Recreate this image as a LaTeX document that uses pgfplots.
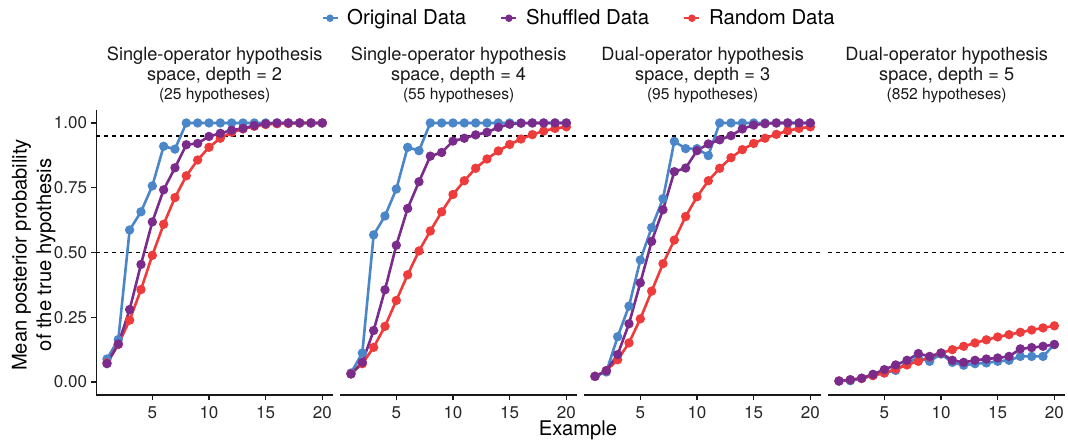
\documentclass[border=0pt]{standalone}
\usepackage{pgfplots}
\pgfplotsset{compat=1.18}
\usepackage{fontspec}
\setmainfont{TeX Gyre Heros}
\definecolor{cblue}{HTML}{4A86C8}
\definecolor{cpurple}{HTML}{7B2B8C}
\definecolor{cred}{HTML}{EE3B3B}
\newcommand\tickfont{\fontsize{8.5}{9}\selectfont}
\newcommand\titlefont{\fontsize{10.1}{12}\selectfont}
\newcommand\legfont{\fontsize{10.2}{12}\selectfont}
\newcommand\stripfont{\fontsize{9.1}{11}\selectfont}
\newcommand\stripsmall{\fontsize{7.8}{9}\selectfont}

\pgfplotstableread{
x orig shuf rand
1 0.089 0.071 0.074
2 0.164 0.147 0.145
3 0.587 0.280 0.239
4 0.657 0.454 0.357
5 0.757 0.618 0.489
6 0.910 0.742 0.609
7 0.899 0.827 0.712
8 1.000 0.916 0.796
9 1.000 0.921 0.857
10 1.000 0.948 0.906
11 1.000 0.960 0.941
12 1.000 0.972 0.964
13 1.000 0.979 0.977
14 1.000 0.990 0.987
15 1.000 0.997 0.994
16 1.000 1.000 0.997
17 1.000 1.000 0.998
18 1.000 1.000 1.000
19 1.000 1.000 1.000
20 1.000 1.000 1.000
}\tabA
\pgfplotstableread{
x orig shuf rand
1 0.035 0.031 0.032
2 0.112 0.076 0.071
3 0.568 0.199 0.134
4 0.641 0.356 0.215
5 0.745 0.528 0.315
6 0.906 0.670 0.414
7 0.893 0.773 0.506
8 1.000 0.872 0.583
9 1.000 0.886 0.657
10 1.000 0.930 0.724
11 1.000 0.941 0.777
12 1.000 0.954 0.825
13 1.000 0.964 0.861
14 1.000 0.983 0.892
15 1.000 0.995 0.917
16 1.000 0.999 0.938
17 1.000 1.000 0.955
18 1.000 1.000 0.969
19 1.000 1.000 0.979
20 1.000 1.000 0.985
}\tabB
\pgfplotstableread{
x orig shuf rand
1 0.022 0.022 0.022
2 0.039 0.044 0.044
3 0.175 0.106 0.086
4 0.293 0.225 0.151
5 0.471 0.383 0.244
6 0.596 0.543 0.351
7 0.708 0.665 0.457
8 0.929 0.812 0.548
9 0.901 0.826 0.639
10 0.901 0.893 0.715
11 0.874 0.919 0.777
12 1.000 0.935 0.825
13 1.000 0.951 0.866
14 1.000 0.977 0.897
15 1.000 0.992 0.921
16 1.000 0.997 0.941
17 1.000 1.000 0.956
18 1.000 1.000 0.970
19 1.000 1.000 0.979
20 1.000 1.000 0.985
}\tabC
\pgfplotstableread{
x orig shuf rand
1 0.004 0.004 0.004
2 0.005 0.009 0.009
3 0.014 0.015 0.014
4 0.025 0.030 0.025
5 0.035 0.048 0.035
6 0.045 0.066 0.050
7 0.074 0.084 0.066
8 0.093 0.110 0.080
9 0.080 0.099 0.097
10 0.108 0.112 0.112
11 0.076 0.084 0.125
12 0.065 0.076 0.138
13 0.071 0.084 0.151
14 0.074 0.089 0.163
15 0.080 0.093 0.174
16 0.084 0.099 0.183
17 0.099 0.128 0.192
18 0.099 0.133 0.201
19 0.099 0.138 0.209
20 0.145 0.145 0.217
}\tabD

\pgfplotsset{
  panel/.style={
    scale only axis, width=118.45pt, height=142.5pt,
    anchor=south west,
    xmin=0.05, xmax=20.95, ymin=-0.05, ymax=1.05,
    axis x line*=bottom,
    axis line style={-, line width=0.65pt, black!90},
    xtick={5,10,15,20},
    tick align=outside, major tick length=2.5pt,
    tick style={line width=0.6pt, black!90},
    ticklabel style={font=\tickfont, text=black!85, inner sep=0pt},
    xticklabel style={yshift=-3pt},
    yticklabel style={xshift=-1.9pt},
    /pgf/number format/assume math mode=true,
    clip=false,
  },
  noy/.style={axis y line=none, ytick=\empty},
  ser/.style={line width=1.3pt, mark=*, mark size=1.65pt, mark options={solid}},
  ref/.style={dash pattern=on 2pt off 2pt, line width=0.65pt, black},
}
\newcommand\panelplots[1]{%
  \addplot[ref, forget plot] coordinates {(0.05,0.95) (20.95,0.95)};
  \addplot[ref, forget plot] coordinates {(0.05,0.5) (20.95,0.5)};
  \addplot[ser, cblue, forget plot] table[x=x, y=orig] {#1};
  \addplot[ser, cred, forget plot] table[x=x, y=rand] {#1};
  \addplot[ser, cpurple, forget plot] table[x=x, y=shuf] {#1};
}

\begin{document}
\begin{tikzpicture}
\path[use as bounding box] (0,0) rectangle (534pt,220.5pt);

\begin{axis}[panel, at={(48.1pt,23pt)},
  axis y line*=left,
  ytick={0,0.25,0.5,0.75,1},
  yticklabels={0.00,0.25,0.50,0.75,1.00},
  legend columns=3,
  legend style={at={(axis description cs:2.036,1.322)}, anchor=center,
    draw=none, fill=none, font=\legfont,
    nodes={inner sep=0.5pt},
    /tikz/every odd column/.append style={column sep=3.8pt},
    /tikz/every even column/.append style={column sep=16.5pt}},
  legend image code/.code={\draw[mark repeat=2, mark phase=2, line width=1.1pt, mark size=1.3pt, #1] plot coordinates {(0pt,0pt) (3.75pt,0pt) (7.5pt,0pt)};},
]
\addlegendimage{cblue, mark=*}
\addlegendentry{Original Data}
\addlegendimage{cpurple, mark=*}
\addlegendentry{Shuffled Data}
\addlegendimage{cred, mark=*}
\addlegendentry{Random Data}
\panelplots{\tabA}
\end{axis}

\begin{axis}[panel, noy, at={(170.1pt,23pt)}]
\panelplots{\tabB}
\end{axis}

\begin{axis}[panel, noy, at={(292.1pt,23pt)}]
\panelplots{\tabC}
\end{axis}

\begin{axis}[panel, noy, at={(414.1pt,23pt)}]
\panelplots{\tabD}
\end{axis}

% strip titles
\foreach \cx/\la/\lb/\lc in {107.33/Single-operator hypothesis/{space, depth = 2}/(25 hypotheses),
  229.33/Single-operator hypothesis/{space, depth = 4}/(55 hypotheses),
  351.33/Dual-operator hypothesis/{space, depth = 3}/(95 hypotheses),
  473.33/Dual-operator hypothesis/{space, depth = 5}/(852 hypotheses)}{
  \node[anchor=base, font=\stripfont, text=black!90, inner sep=0pt] at (\cx pt,190.5pt) {\la};
  \node[anchor=base, font=\stripfont, text=black!90, inner sep=0pt] at (\cx pt,180.15pt) {\lb};
  \node[anchor=base, font=\stripsmall, text=black!90, inner sep=0pt] at (\cx pt,171pt) {\lc};
}

% axis titles
\node[anchor=base, font=\titlefont, inner sep=0pt] at (289pt,2.8pt) {Example};
\node[anchor=base, rotate=90, font=\titlefont, inner sep=0pt] at (13.35pt,93pt) {Mean posterior probability};
\node[anchor=base, rotate=90, font=\titlefont, inner sep=0pt] at (25.5pt,93pt) {of the true hypothesis};
\end{tikzpicture}
\end{document}
